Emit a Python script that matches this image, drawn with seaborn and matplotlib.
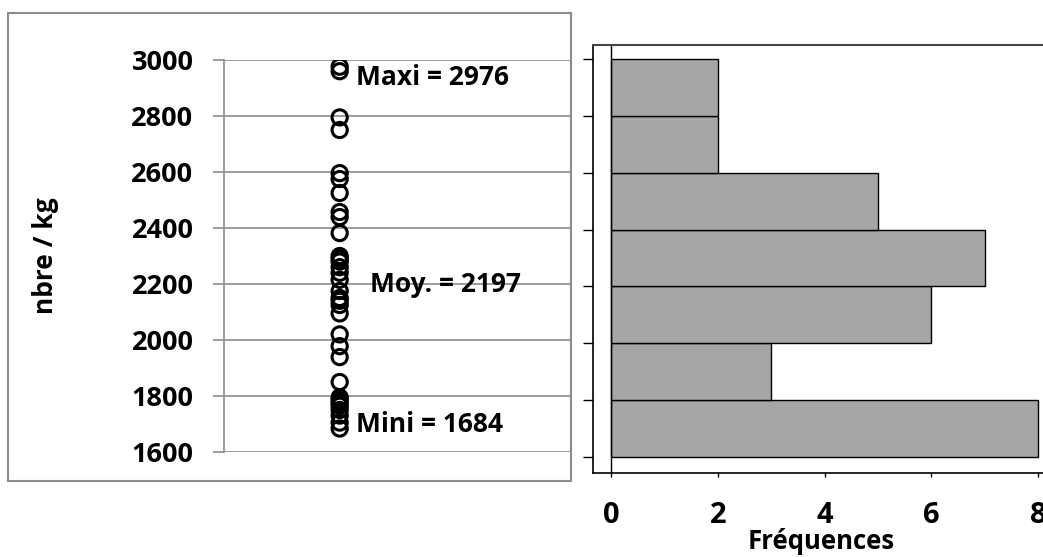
import numpy as np
import pandas as pd
import matplotlib
matplotlib.use("Agg")
import matplotlib.pyplot as plt
from matplotlib.patches import Rectangle
import seaborn as sns

# Individual counts (number of grains per kg)
nbre_kg = [2976, 2960, 2795, 2750, 2596, 2575, 2525, 2457, 2439,
           2382, 2300, 2290, 2280, 2260, 2240, 2215,
           2175, 2150, 2140, 2125, 2095, 2020,
           1978, 1939, 1850,
           1795, 1785, 1775, 1765, 1750, 1730, 1705, 1684]
y_ticks = [1600, 1800, 2000, 2200, 2400, 2600, 2800, 3000]
bin_edges = [1600, 1800, 2000, 2200, 2400, 2600, 2800, 3000]
freq_ticks = [0, 2, 4, 6, 8]

df = pd.DataFrame({"nbre": nbre_kg, "pos": 0})

sns.set_theme(style="white")
plt.rcParams["font.family"] = ["Open Sans", "DejaVu Sans"]
plt.rcParams["font.weight"] = "bold"
plt.rcParams["text.color"] = "black"
plt.rcParams["axes.labelcolor"] = "black"
plt.rcParams["xtick.labelcolor"] = "black"
plt.rcParams["ytick.labelcolor"] = "black"

W, H = 1043, 557
fig = plt.figure(figsize=(W / 100, H / 100), dpi=100)

def box(x0, y0, x1, y1):
    return [x0 / W, 1 - y1 / H, (x1 - x0) / W, (y1 - y0) / H]

# Frame around the left chart
fig.patches.append(Rectangle((8 / W, 1 - 481 / H), 563 / W, 468 / H,
                             transform=fig.transFigure, fill=False,
                             edgecolor="#8c8c8c", linewidth=1.5, zorder=0))

# ---- Left: individual values ----
grid_c = "#8c8c8c"
ax1 = fig.add_axes(box(224, 60, 571, 452))
sns.scatterplot(data=df, x="pos", y="nbre", ax=ax1, marker="o", s=120,
                facecolor="none", edgecolor="black", linewidth=2.2, zorder=3)
ax1.set_xlim(-1, 2)
ax1.set_ylim(1600, 3000)
ax1.set_yticks(y_ticks)
ax1.set_yticklabels([str(t) for t in y_ticks], fontsize=19.5,
                    fontweight="bold", color="black")
ax1.set_xticks([])
ax1.yaxis.grid(True, color=grid_c, linewidth=1.2)
ax1.set_axisbelow(True)
for s in ["top", "right", "bottom"]:
    ax1.spines[s].set_visible(False)
ax1.spines["left"].set_color(grid_c)
ax1.spines["left"].set_linewidth(1.2)
ax1.tick_params(axis="y", direction="out", length=8, width=1.2,
                color=grid_c, pad=14, left=True)
ax1.set_xlabel("")
ax1.set_ylabel("nbre / kg", fontsize=19, fontweight="bold", labelpad=52,
               color="black")

vmax, vmin, vmean = max(nbre_kg), min(nbre_kg), np.mean(nbre_kg)
lab_kw = dict(textcoords="offset points", va="center", ha="left",
              fontsize=19, fontweight="bold", color="black")
ax1.annotate(f"Maxi = {vmax}", (0, vmax), xytext=(12, -8), **lab_kw)
ax1.annotate(f"Moy. = {vmean:.0f}", (0, vmean), xytext=(22, 0), **lab_kw)
ax1.annotate(f"Mini = {vmin}", (0, vmin), xytext=(12, 3), **lab_kw)
ax1.patch.set_alpha(0)

# ---- Right: frequency histogram ----
ax2 = fig.add_axes(box(593, 45, 1049, 473))
sns.histplot(y=nbre_kg, bins=bin_edges, ax=ax2, color="#a6a6a6",
             edgecolor="black", linewidth=1.0, alpha=1)
ax2.set_xlim(-0.337, 8.2)
ax2.set_ylim(1543.7, 3049.2)
ax2.axvline(0, color="black", linewidth=1.0, zorder=1)
ax2.set_yticks(y_ticks)
ax2.set_yticklabels([])
ax2.set_xticks(freq_ticks)
ax2.set_xticklabels([str(t) for t in freq_ticks], fontsize=21,
                    fontweight="bold", color="black")
ax2.tick_params(axis="y", direction="out", length=7, width=1, color="black",
                left=True)
ax2.tick_params(axis="x", direction="out", length=3, width=1, color="black",
                bottom=True, pad=17)
for s in ["left", "bottom"]:
    ax2.spines[s].set_color("black")
    ax2.spines[s].set_linewidth(1.2)
ax2.spines["top"].set_color("#444444")
ax2.spines["top"].set_linewidth(1.5)
ax2.spines["right"].set_visible(False)
ax2.set_ylabel("")
ax2.set_xlabel("Fréquences", fontsize=18.5, fontweight="bold", labelpad=-1.5,
               color="black")

fig.savefig("out.png", dpi=100)
